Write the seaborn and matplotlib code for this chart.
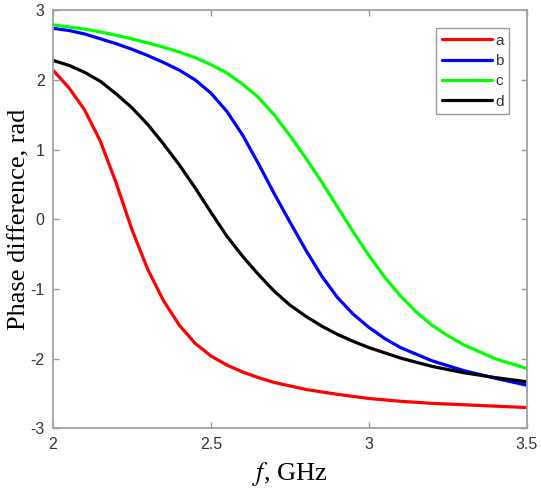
import numpy as np
import pandas as pd
import matplotlib
matplotlib.use("Agg")
import matplotlib.pyplot as plt
import seaborn as sns

# values
freq_a = [2.00, 2.05, 2.10, 2.15, 2.20, 2.25, 2.30, 2.35, 2.40, 2.45, 2.50, 2.55, 2.60, 2.65,
          2.70, 2.80, 2.90, 3.00, 3.10, 3.20, 3.30, 3.40, 3.50]
phase_a = [2.14, 1.89, 1.57, 1.12, 0.52, -0.15, -0.72, -1.17, -1.52, -1.78, -1.96, -2.09, -2.19, -2.27,
           -2.34, -2.44, -2.51, -2.57, -2.61, -2.64, -2.66, -2.68, -2.70]

freq_b = [2.00, 2.05, 2.10, 2.15, 2.20, 2.25, 2.30, 2.35, 2.40, 2.45, 2.50, 2.55, 2.60, 2.65, 2.70,
          2.75, 2.80, 2.85, 2.90, 2.95, 3.00, 3.05, 3.10, 3.20, 3.30, 3.40, 3.50]
phase_b = [2.74, 2.71, 2.66, 2.59, 2.52, 2.44, 2.35, 2.25, 2.14, 2.00, 1.81, 1.55, 1.21, 0.80, 0.37,
           -0.04, -0.44, -0.81, -1.12, -1.36, -1.55, -1.71, -1.84, -2.03, -2.17, -2.28, -2.38]

freq_c = [2.00, 2.05, 2.10, 2.15, 2.20, 2.25, 2.30, 2.35, 2.40, 2.45, 2.50, 2.55, 2.60, 2.65, 2.70,
          2.75, 2.80, 2.85, 2.90, 2.95, 3.00, 3.05, 3.10, 3.15, 3.20, 3.25, 3.30, 3.40, 3.50]
phase_c = [2.79, 2.76, 2.73, 2.69, 2.64, 2.59, 2.53, 2.47, 2.40, 2.32, 2.22, 2.10, 1.94, 1.75, 1.50,
           1.20, 0.88, 0.54, 0.18, -0.18, -0.52, -0.83, -1.10, -1.33, -1.52, -1.67, -1.80, -2.00, -2.14]

freq_d = [2.00, 2.05, 2.10, 2.15, 2.20, 2.25, 2.30, 2.35, 2.40, 2.45, 2.50, 2.55, 2.60, 2.65, 2.70,
          2.75, 2.80, 2.85, 2.90, 2.95, 3.00, 3.10, 3.20, 3.30, 3.40, 3.50]
phase_d = [2.28, 2.21, 2.11, 1.98, 1.80, 1.60, 1.36, 1.08, 0.78, 0.45, 0.10, -0.24, -0.53, -0.79, -1.03,
           -1.23, -1.39, -1.53, -1.65, -1.75, -1.84, -1.99, -2.11, -2.20, -2.27, -2.33]

labels = ["a", "b", "c", "d"]
colors = ["#ff0000", "#0000ff", "#00ff00", "#000000"]

x_ticks = [2, 2.5, 3, 3.5]
x_tick_labels = ["2", "2.5", "3", "3.5"]
y_ticks = [-3, -2, -1, 0, 1, 2, 3]

frames = []
for lab, f, p in zip(labels, [freq_a, freq_b, freq_c, freq_d], [phase_a, phase_b, phase_c, phase_d]):
    frames.append(pd.DataFrame({"f": f, "phase": p, "curve": lab}))
df = pd.concat(frames, ignore_index=True)

sns.set_style("white")
plt.rcParams['font.family'] = ['Liberation Sans', 'DejaVu Sans']
plt.rcParams['axes.unicode_minus'] = False

fig = plt.figure(figsize=(5.41, 4.88), dpi=100)
ax = fig.add_axes([0.098, 0.122, 0.876, 0.857])

sns.lineplot(data=df, x="f", y="phase", hue="curve", palette=dict(zip(labels, colors)),
             linewidth=2.3, ax=ax, sort=False)

ax.set_xlim(2, 3.5)
ax.set_ylim(-3, 3)
ax.set_xticks(x_ticks)
ax.set_xticklabels(x_tick_labels)
ax.set_yticks(y_ticks)
ax.tick_params(direction="in", length=4, width=1, colors="#999999", labelcolor="#333333",
               labelsize=11.5, top=True, right=True, bottom=True, left=True, pad=6)
for s in ax.spines.values():
    s.set_color("#a0a0a0")
    s.set_linewidth(1.3)

ax.set_xlabel("$f$, GHz", family="Liberation Serif", fontsize=19, color="black", labelpad=6)
ax.xaxis.label.set_math_fontfamily("stix")
ax.set_ylabel("Phase difference, rad", family="Liberation Serif", fontsize=19, color="black")
ax.yaxis.set_label_coords(-0.047, 0.5)

leg = ax.legend(loc="upper right", bbox_to_anchor=(0.962, 0.957), borderaxespad=0,
                fontsize=11, handlelength=3.3, handletextpad=0.2, labelspacing=0.42,
                frameon=True, fancybox=False, borderpad=0.35, title=None)
leg.get_frame().set_edgecolor("#808080")
leg.get_frame().set_linewidth(1.0)
for h in leg.get_lines():
    h.set_linewidth(2.3)
for t in leg.get_texts():
    t.set_color("#333333")

fig.savefig("out.png", dpi=100)
